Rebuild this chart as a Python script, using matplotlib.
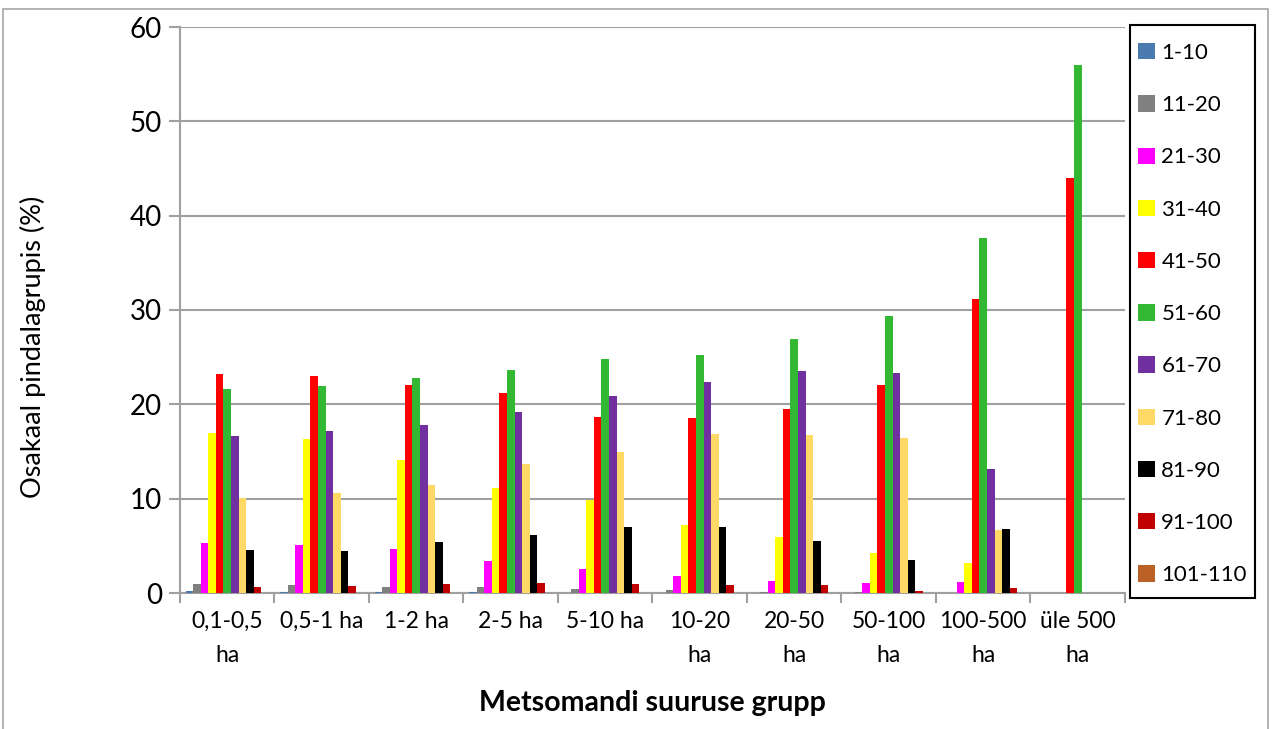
import matplotlib.pyplot as plt
import numpy as np
from matplotlib.patches import Rectangle

# Metsomandi suuruse grupid
groups = ['0,1-0,5\nha', '0,5-1 ha', '1-2 ha', '2-5 ha', '5-10 ha',
          '10-20\nha', '20-50\nha', '50-100\nha', '100-500\nha', 'üle 500\nha']

age_classes = ['1-10', '11-20', '21-30', '31-40', '41-50', '51-60',
               '61-70', '71-80', '81-90', '91-100', '101-110']

# osakaal pindalagrupis (%), iga vanuseklass eraldi
v_1_10 = [0.2, 0.15, 0.1, 0.1, 0.05, 0.05, 0.0, 0.0, 0.0, 0.0]
v_11_20 = [1.0, 0.8, 0.65, 0.65, 0.4, 0.3, 0.15, 0.15, 0.0, 0.0]
v_21_30 = [5.3, 5.1, 4.7, 3.4, 2.5, 1.8, 1.3, 1.1, 1.2, 0.0]
v_31_40 = [17.0, 16.3, 14.1, 11.1, 9.9, 7.2, 5.9, 4.2, 3.2, 0.0]
v_41_50 = [23.2, 23.0, 22.0, 21.2, 18.7, 18.5, 19.5, 22.1, 31.2, 44.0]
v_51_60 = [21.6, 21.9, 22.8, 23.6, 24.8, 25.2, 26.9, 29.4, 37.6, 56.0]
v_61_70 = [16.6, 17.2, 17.8, 19.2, 20.9, 22.4, 23.5, 23.3, 13.1, 0.0]
v_71_80 = [10.1, 10.6, 11.5, 13.7, 15.0, 16.9, 16.8, 16.4, 6.7, 0.0]
v_81_90 = [4.6, 4.45, 5.4, 6.2, 7.0, 7.0, 5.5, 3.5, 6.8, 0.0]
v_91_100 = [0.6, 0.75, 1.0, 1.05, 1.0, 0.9, 0.85, 0.2, 0.5, 0.0]
v_101_110 = [0.05, 0.03, 0.03, 0.05, 0.03, 0.02, 0.02, 0.0, 0.0, 0.0]

series = [v_1_10, v_11_20, v_21_30, v_31_40, v_41_50, v_51_60,
          v_61_70, v_71_80, v_81_90, v_91_100, v_101_110]
colors = ['#4a7ab0', '#808080', '#ff00ff', '#ffff00', '#ff0000', '#33b833',
          '#7030a0', '#ffd966', '#000000', '#c00000', '#bb6125']

plt.rcParams['font.family'] = ['Lato', 'DejaVu Sans']

fig = plt.figure(figsize=(12.76, 7.29), dpi=100)
ax = fig.add_axes([180 / 1276, 1 - 593 / 729, 945 / 1276, 566 / 729])

# raam ümber diagrammi
fig.patches.append(Rectangle((3 / 1276, -0.01), 1265 / 1276, 1 - 9 / 729 + 0.01,
                             transform=fig.transFigure, fill=False,
                             edgecolor='#a6a6a6', linewidth=1.2))

x = np.arange(len(groups))
w = 0.08
for i, (vals, c, lab) in enumerate(zip(series, colors, age_classes)):
    ax.bar(x + (i - 5) * w, vals, width=w, color=c, label=lab, zorder=3)

ax.set_xlim(-0.5, len(groups) - 0.5)
ax.set_ylim(0, 60)
ax.set_yticks(range(0, 61, 10))
ax.yaxis.grid(True, color='#a0a0a0', linewidth=1.5, zorder=0)
ax.set_axisbelow(True)

for s in ['top', 'right']:
    ax.spines[s].set_visible(False)
for s in ['left', 'bottom']:
    ax.spines[s].set_color('#a0a0a0')
    ax.spines[s].set_linewidth(1.5)

ax.set_xticks(x)
ax.set_xticklabels(groups, fontsize=16.5, linespacing=1.75, va='top')
ax.set_xticks(np.arange(-0.5, len(groups)), minor=True)
ax.tick_params(axis='x', which='major', length=0, pad=13)
ax.tick_params(axis='x', which='minor', length=7, width=1.5, color='#a0a0a0')
ax.tick_params(axis='y', length=8, width=1.5, color='#a0a0a0', labelsize=20, pad=5)

ax.set_ylabel('Osakaal pindalagrupis (%)', fontsize=19.5)
ax.yaxis.set_label_coords(-0.142, 0.435)
ax.set_xlabel('Metsomandi suuruse grupp', fontsize=20.5, fontweight='bold')
ax.xaxis.set_label_coords(0.5, -0.194)
ax.xaxis.label.set_va('center')

# legend ilma raamita + eraldi must kast
fig.patches.append(Rectangle((1130 / 1276, 1 - 598 / 729), 125 / 1276, 573 / 729,
                             transform=fig.transFigure, fill=True, facecolor='white',
                             edgecolor='black', linewidth=1.5, zorder=4))
leg = fig.legend(loc='upper left', bbox_to_anchor=(1138 / 1276, 1 - 43 / 729),
                 fontsize=16, frameon=False,
                 handlelength=0.75, handleheight=0.75, handletextpad=0.3,
                 labelspacing=1.45, borderpad=0, borderaxespad=0)
leg.set_zorder(5)

fig.savefig('out.png', dpi=100)
